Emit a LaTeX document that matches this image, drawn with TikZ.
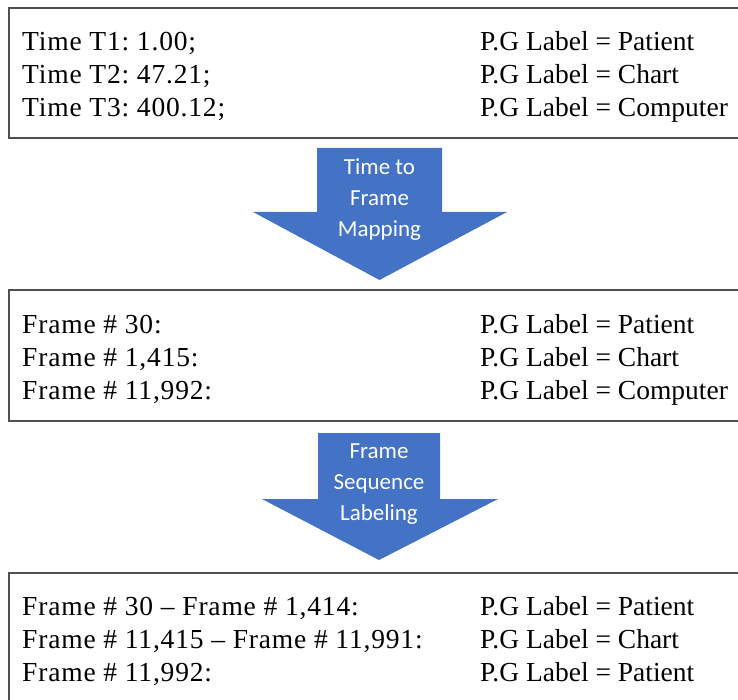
\documentclass[tikz,border=0pt]{standalone}
\usepackage{fontspec}
\setmainfont{Liberation Serif}
\newfontfamily\arrowfont{Carlito}
\newfontfamily\leftfont[LetterSpace=3,Ligatures=TeX]{Liberation Serif}
\definecolor{boxline}{HTML}{505050}
\definecolor{officeblue}{HTML}{4472C4}
\frenchspacing
\begin{document}
\begin{tikzpicture}[x=1pt,y=1pt,
  panel/.style={draw=boxline,line width=2pt,fill=white},
  rowtext/.style={anchor=base west,inner sep=0pt,font=\fontsize{27.5}{34}\selectfont},
  keytext/.style={rowtext,font=\leftfont\fontsize{27.5}{34}\selectfont},
  blockarrow/.style={fill=officeblue},
  arrowtext/.style={text=white,align=center,inner sep=0pt,
    font=\arrowfont\fontsize{23}{31}\selectfont}]
\useasboundingbox (0,0) rectangle (738,-700);

% three panels (running past the right edge)
\draw[panel] (9,-8) rectangle (760,-138);
\draw[panel] (9,-290) rectangle (760,-421);
\draw[panel] (9,-573) rectangle (760,-720);

% panel 1: timestamps
\node[keytext] (t1) at (22,-51) {Time T1: 1.00;};
\node[keytext] (t2) at (22,-84) {Time T2: 47.21;};
\node[keytext] (t3) at (22,-117) {Time T3: 400.12;};
\node[rowtext] (l1) at (480,-51) {P.G Label = Patient};
\node[rowtext] (l2) at (480,-84) {P.G Label = Chart};
\node[rowtext] (l3) at (480,-117) {P.G Label = Computer};

% arrow 1: time to frame mapping
\fill[blockarrow] (317,-148) -- (442,-148) -- (442,-212) -- (507,-212)
  -- (379.5,-280) -- (253,-212) -- (317,-212) -- cycle;
\node[arrowtext] (m1) at (379.5,-200) {Time to\\Frame\\Mapping};

% panel 2: frame numbers
\node[keytext] (f1) at (22,-333) {Frame \# 30:};
\node[keytext] (f2) at (22,-366) {Frame \# 1,415:};
\node[keytext] (f3) at (22,-399) {Frame \# 11,992:};
\node[rowtext] (g1) at (480,-333) {P.G Label = Patient};
\node[rowtext] (g2) at (480,-366) {P.G Label = Chart};
\node[rowtext] (g3) at (480,-399) {P.G Label = Computer};

% arrow 2: frame sequence labeling
\fill[blockarrow] (318,-433) -- (440,-433) -- (440,-499) -- (498,-499)
  -- (379,-560) -- (262,-499) -- (318,-499) -- cycle;
\node[arrowtext] (m2) at (379,-484) {Frame\\Sequence\\Labeling};

% panel 3: labelled frame ranges
\node[keytext] (s1) at (22,-615) {Frame \# 30 – Frame \# 1,414:};
\node[keytext] (s2) at (22,-648) {Frame \# 11,415 – Frame \# 11,991:};
\node[keytext] (s3) at (22,-681) {Frame \# 11,992:};
\node[rowtext] (h1) at (480,-615) {P.G Label = Patient};
\node[rowtext] (h2) at (480,-648) {P.G Label = Chart};
\node[rowtext] (h3) at (480,-681) {P.G Label = Patient};
\end{tikzpicture}
\end{document}
